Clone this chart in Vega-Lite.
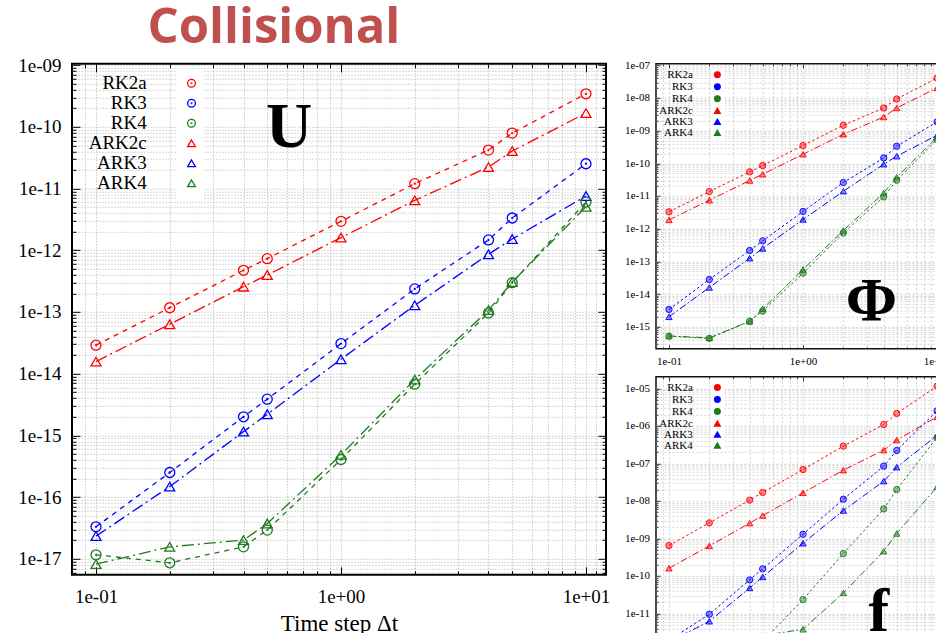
{
"$schema": "https://vega.github.io/schema/vega-lite/v6.json",
"background": "white",
"padding": {"left": 16, "top": 2.8, "right": 0, "bottom": 0},
"spacing": 12,
"columns": 2,
"align": "none",
"resolve": {"scale": {"color": "independent", "shape": "independent", "strokeDash": "independent", "fillOpacity": "independent", "stroke": "independent"}, "legend": {"color": "independent", "shape": "independent", "strokeDash": "independent", "fillOpacity": "independent", "stroke": "independent"}},
"config": {
  "font": "Liberation Serif",
  "view": {"stroke": "#111", "strokeWidth": 1.5},
  "axis": {"domain": false, "labelFont": "Liberation Serif", "labelColor": "#000", "tickColor": "#000", "tickWidth": 1, "labelFlush": false, "labelOverlap": false, "labelBound": false, "titleFont": "Liberation Serif", "titleFontWeight": "normal", "titleColor": "#000"},
  "legend": {"labelFont": "Liberation Serif", "labelColor": "#000"}
},
"datasets": {
  "U": [
    {"scheme":"RK2a","dt":0.1,"err":2.89e-14},{"scheme":"RK2a","dt":0.2,"err":1.17e-13},{"scheme":"RK2a","dt":0.4,"err":4.73e-13},{"scheme":"RK2a","dt":0.5,"err":7.30e-13},{"scheme":"RK2a","dt":1,"err":2.94e-12},{"scheme":"RK2a","dt":2,"err":1.20e-11},{"scheme":"RK2a","dt":4,"err":4.20e-11},{"scheme":"RK2a","dt":5,"err":7.92e-11},{"scheme":"RK2a","dt":10,"err":3.43e-10},
    {"scheme":"ARK2c","dt":0.1,"err":1.57e-14},{"scheme":"ARK2c","dt":0.2,"err":6.32e-14},{"scheme":"ARK2c","dt":0.4,"err":2.57e-13},{"scheme":"ARK2c","dt":0.5,"err":3.97e-13},{"scheme":"ARK2c","dt":1,"err":1.60e-12},{"scheme":"ARK2c","dt":2,"err":6.44e-12},{"scheme":"ARK2c","dt":4,"err":2.23e-11},{"scheme":"ARK2c","dt":5,"err":4.05e-11},{"scheme":"ARK2c","dt":10,"err":1.67e-10},
    {"scheme":"RK3","dt":0.1,"err":3.30e-17},{"scheme":"RK3","dt":0.2,"err":2.50e-16},{"scheme":"RK3","dt":0.4,"err":2.00e-15},{"scheme":"RK3","dt":0.5,"err":3.86e-15},{"scheme":"RK3","dt":1,"err":3.07e-14},{"scheme":"RK3","dt":2,"err":2.36e-13},{"scheme":"RK3","dt":4,"err":1.47e-12},{"scheme":"RK3","dt":5,"err":3.33e-12},{"scheme":"RK3","dt":10,"err":2.52e-11},
    {"scheme":"ARK3","dt":0.1,"err":2.33e-17},{"scheme":"ARK3","dt":0.2,"err":1.48e-16},{"scheme":"ARK3","dt":0.4,"err":1.15e-15},{"scheme":"ARK3","dt":0.5,"err":2.20e-15},{"scheme":"ARK3","dt":1,"err":1.71e-14},{"scheme":"ARK3","dt":2,"err":1.28e-13},{"scheme":"ARK3","dt":4,"err":8.60e-13},{"scheme":"ARK3","dt":5,"err":1.52e-12},{"scheme":"ARK3","dt":10,"err":7.56e-12},
    {"scheme":"RK4","dt":0.1,"err":1.16e-17},{"scheme":"RK4","dt":0.2,"err":8.61e-18},{"scheme":"RK4","dt":0.4,"err":1.56e-17},{"scheme":"RK4","dt":0.5,"err":2.92e-17},{"scheme":"RK4","dt":1,"err":4.06e-16},{"scheme":"RK4","dt":2,"err":6.75e-15},{"scheme":"RK4","dt":4,"err":9.64e-14},{"scheme":"RK4","dt":5,"err":2.98e-13},{"scheme":"RK4","dt":10,"err":6.04e-12},
    {"scheme":"ARK4","dt":0.1,"err":8.20e-18},{"scheme":"ARK4","dt":0.2,"err":1.56e-17},{"scheme":"ARK4","dt":0.4,"err":2.01e-17},{"scheme":"ARK4","dt":0.5,"err":3.73e-17},{"scheme":"ARK4","dt":1,"err":4.83e-16},{"scheme":"ARK4","dt":2,"err":8.01e-15},{"scheme":"ARK4","dt":4,"err":1.07e-13},{"scheme":"ARK4","dt":5,"err":3.05e-13},{"scheme":"ARK4","dt":10,"err":5.07e-12}
  ],
  "Phi": [
    {"scheme":"RK2a","dt":0.1,"err":3.27e-12},{"scheme":"RK2a","dt":0.2,"err":1.37e-11},{"scheme":"RK2a","dt":0.4,"err":5.46e-11},{"scheme":"RK2a","dt":0.5,"err":8.57e-11},{"scheme":"RK2a","dt":1,"err":3.50e-10},{"scheme":"RK2a","dt":2,"err":1.46e-9},{"scheme":"RK2a","dt":4,"err":4.94e-9},{"scheme":"RK2a","dt":5,"err":9.31e-9},{"scheme":"RK2a","dt":10,"err":4.09e-8},
    {"scheme":"ARK2c","dt":0.1,"err":1.86e-12},{"scheme":"ARK2c","dt":0.2,"err":7.44e-12},{"scheme":"ARK2c","dt":0.4,"err":2.98e-11},{"scheme":"ARK2c","dt":0.5,"err":4.64e-11},{"scheme":"ARK2c","dt":1,"err":1.90e-10},{"scheme":"ARK2c","dt":2,"err":7.76e-10},{"scheme":"ARK2c","dt":4,"err":2.62e-9},{"scheme":"ARK2c","dt":5,"err":4.94e-9},{"scheme":"ARK2c","dt":10,"err":2.02e-8},
    {"scheme":"RK3","dt":0.1,"err":3.38e-15},{"scheme":"RK3","dt":0.2,"err":2.79e-14},{"scheme":"RK3","dt":0.4,"err":2.15e-13},{"scheme":"RK3","dt":0.5,"err":4.24e-13},{"scheme":"RK3","dt":1,"err":3.36e-12},{"scheme":"RK3","dt":2,"err":2.59e-11},{"scheme":"RK3","dt":4,"err":1.46e-10},{"scheme":"RK3","dt":5,"err":3.33e-10},{"scheme":"RK3","dt":10,"err":1.85e-9},
    {"scheme":"ARK3","dt":0.1,"err":2.01e-15},{"scheme":"ARK3","dt":0.2,"err":1.59e-14},{"scheme":"ARK3","dt":0.4,"err":1.25e-13},{"scheme":"ARK3","dt":0.5,"err":2.48e-13},{"scheme":"ARK3","dt":1,"err":1.91e-12},{"scheme":"ARK3","dt":2,"err":1.40e-11},{"scheme":"ARK3","dt":4,"err":9.38e-11},{"scheme":"ARK3","dt":5,"err":1.65e-10},{"scheme":"ARK3","dt":10,"err":7.23e-10},
    {"scheme":"RK4","dt":0.1,"err":5.16e-16},{"scheme":"RK4","dt":0.2,"err":4.39e-16},{"scheme":"RK4","dt":0.4,"err":1.48e-15},{"scheme":"RK4","dt":0.5,"err":3.00e-15},{"scheme":"RK4","dt":1,"err":4.36e-14},{"scheme":"RK4","dt":2,"err":7.45e-13},{"scheme":"RK4","dt":4,"err":9.38e-12},{"scheme":"RK4","dt":5,"err":3.04e-11},{"scheme":"RK4","dt":10,"err":5.35e-10},
    {"scheme":"ARK4","dt":0.1,"err":5.20e-16},{"scheme":"ARK4","dt":0.2,"err":4.58e-16},{"scheme":"ARK4","dt":0.4,"err":1.45e-15},{"scheme":"ARK4","dt":0.5,"err":3.52e-15},{"scheme":"ARK4","dt":1,"err":5.65e-14},{"scheme":"ARK4","dt":2,"err":8.81e-13},{"scheme":"ARK4","dt":4,"err":1.24e-11},{"scheme":"ARK4","dt":5,"err":3.76e-11},{"scheme":"ARK4","dt":10,"err":6.28e-10}
  ],
  "F": [
    {"scheme":"RK2a","dt":0.1,"err":6.45e-10},{"scheme":"RK2a","dt":0.2,"err":2.60e-9},{"scheme":"RK2a","dt":0.4,"err":1.05e-8},{"scheme":"RK2a","dt":0.5,"err":1.68e-8},{"scheme":"RK2a","dt":1,"err":6.89e-8},{"scheme":"RK2a","dt":2,"err":2.89e-7},{"scheme":"RK2a","dt":4,"err":1.09e-6},{"scheme":"RK2a","dt":5,"err":2.15e-6},{"scheme":"RK2a","dt":10,"err":1.15e-5},
    {"scheme":"ARK2c","dt":0.1,"err":1.60e-10},{"scheme":"ARK2c","dt":0.2,"err":6.32e-10},{"scheme":"ARK2c","dt":0.4,"err":2.55e-9},{"scheme":"ARK2c","dt":0.5,"err":4.07e-9},{"scheme":"ARK2c","dt":1,"err":1.64e-8},{"scheme":"ARK2c","dt":2,"err":6.61e-8},{"scheme":"ARK2c","dt":4,"err":2.26e-7},{"scheme":"ARK2c","dt":5,"err":4.18e-7},{"scheme":"ARK2c","dt":10,"err":1.75e-6},
    {"scheme":"RK3","dt":0.1,"err":1.92e-12},{"scheme":"RK3","dt":0.2,"err":9.48e-12},{"scheme":"RK3","dt":0.4,"err":7.82e-11},{"scheme":"RK3","dt":0.5,"err":1.54e-10},{"scheme":"RK3","dt":1,"err":1.29e-9},{"scheme":"RK3","dt":2,"err":1.11e-8},{"scheme":"RK3","dt":4,"err":8.45e-8},{"scheme":"RK3","dt":5,"err":2.21e-7},{"scheme":"RK3","dt":10,"err":2.53e-6},
    {"scheme":"ARK3","dt":0.1,"err":1.73e-12},{"scheme":"ARK3","dt":0.2,"err":6.17e-12},{"scheme":"ARK3","dt":0.4,"err":4.78e-11},{"scheme":"ARK3","dt":0.5,"err":9.40e-11},{"scheme":"ARK3","dt":1,"err":7.45e-10},{"scheme":"ARK3","dt":2,"err":5.54e-9},{"scheme":"ARK3","dt":4,"err":3.36e-8},{"scheme":"ARK3","dt":5,"err":7.94e-8},{"scheme":"ARK3","dt":10,"err":5.57e-7},
    {"scheme":"RK4","dt":0.1,"err":1.27e-12},{"scheme":"RK4","dt":0.2,"err":9.37e-13},{"scheme":"RK4","dt":0.4,"err":1.17e-12},{"scheme":"RK4","dt":0.5,"err":1.80e-12},{"scheme":"RK4","dt":1,"err":2.33e-11},{"scheme":"RK4","dt":2,"err":3.94e-10},{"scheme":"RK4","dt":4,"err":6.14e-9},{"scheme":"RK4","dt":5,"err":2.01e-8},{"scheme":"RK4","dt":10,"err":4.92e-7},
    {"scheme":"ARK4","dt":0.1,"err":8.11e-13},{"scheme":"ARK4","dt":0.2,"err":1.80e-12},{"scheme":"ARK4","dt":0.4,"err":1.84e-12},{"scheme":"ARK4","dt":0.5,"err":2.55e-12},{"scheme":"ARK4","dt":1,"err":3.77e-12},{"scheme":"ARK4","dt":2,"err":3.52e-11},{"scheme":"ARK4","dt":4,"err":4.55e-10},{"scheme":"ARK4","dt":5,"err":1.35e-9},{"scheme":"ARK4","dt":10,"err":2.37e-8}
  ]
},
"concat": [
  {
    "width": 534, "height": 511,
    "view": {"stroke": "#000", "strokeWidth": 2},
    "data": {"name": "U"},
    "resolve": {"axis": {"x": "independent", "y": "independent"}},
    "layer": [
      {
        "mark": {"type": "line", "strokeWidth": 1.3, "clip": true},
        "encoding": {
          "x": {"field": "dt", "type": "quantitative", "scale": {"type": "log", "domain": [0.0798, 12.07], "nice": false},
            "axis": {"orient": "bottom", "values": [0.09,0.1,0.2,0.3,0.4,0.5,0.6,0.7,0.8,0.9,1,2,3,4,5,6,7,8,9,10,11],
              "labelExpr": "abs(log(datum.value)/LN10-round(log(datum.value)/LN10))<0.001 ? '1e'+(round(log(datum.value)/LN10)<0?'-':'+')+(abs(round(log(datum.value)/LN10))<10?'0':'')+abs(round(log(datum.value)/LN10)) : ''",
              "labelFontSize": 19, "labelPadding": 20.5,
              "tickSize": {"condition": {"test": "abs(log(datum.value)/LN10-round(log(datum.value)/LN10))<0.001", "value": -8}, "value": -4},
              "grid": true, "gridColor": "#a0a0a0", "gridDash": [1, 2], "gridWidth": 0.8,
              "title": "Time step Δt", "titleFontSize": 23, "titlePadding": 2}},
          "y": {"field": "err", "type": "quantitative", "scale": {"type": "log", "domain": [5.5e-18, 1.05e-9], "nice": false},
            "axis": {"orient": "left", "values": [6e-18,7e-18,8e-18,9e-18,1e-17,2e-17,3e-17,4e-17,5e-17,6e-17,7e-17,8e-17,9e-17,1e-16,2e-16,3e-16,4e-16,5e-16,6e-16,7e-16,8e-16,9e-16,1e-15,2e-15,3e-15,4e-15,5e-15,6e-15,7e-15,8e-15,9e-15,1e-14,2e-14,3e-14,4e-14,5e-14,6e-14,7e-14,8e-14,9e-14,1e-13,2e-13,3e-13,4e-13,5e-13,6e-13,7e-13,8e-13,9e-13,1e-12,2e-12,3e-12,4e-12,5e-12,6e-12,7e-12,8e-12,9e-12,1e-11,2e-11,3e-11,4e-11,5e-11,6e-11,7e-11,8e-11,9e-11,1e-10,2e-10,3e-10,4e-10,5e-10,6e-10,7e-10,8e-10,9e-10,1e-9],
              "labelExpr": "abs(log(datum.value)/LN10-round(log(datum.value)/LN10))<0.001 ? '1e'+(round(log(datum.value)/LN10)<0?'-':'+')+(abs(round(log(datum.value)/LN10))<10?'0':'')+abs(round(log(datum.value)/LN10)) : ''",
              "labelFontSize": 19, "labelPadding": 19,
              "tickSize": {"condition": {"test": "abs(log(datum.value)/LN10-round(log(datum.value)/LN10))<0.001", "value": -8}, "value": -4},
              "grid": true, "gridColor": "#a0a0a0", "gridDash": [1, 2], "gridWidth": 0.8, "title": null}},
          "color": {"field": "scheme", "type": "nominal", "scale": {"domain": ["RK2a","RK3","RK4","ARK2c","ARK3","ARK4"], "range": ["#ff0000","#0000ff","#1e7b1e","#ff0000","#0000ff","#1e7b1e"]}},
          "strokeDash": {"field": "scheme", "type": "nominal", "scale": {"domain": ["ARK2c","ARK3","ARK4","RK2a","RK3","RK4"], "range": [[12,4,2,4],[12,4,2,4],[12,4,2,4],[5,5],[5,5],[5,5]]}, "legend": null}
        }
      },
      {
        "mark": {"type": "point", "filled": false, "size": 100, "strokeWidth": 1.3, "opacity": 1},
        "encoding": {
          "x": {"field": "dt", "type": "quantitative",
            "axis": {"orient": "top", "values": [0.09,0.1,0.2,0.3,0.4,0.5,0.6,0.7,0.8,0.9,1,2,3,4,5,6,7,8,9,10,11], "labels": false, "grid": false,
              "title": "Collisional", "titleFont": "Open Sans", "titleFontSize": 49, "titleFontWeight": "bold", "titleColor": "#c0504d", "titleX": 75, "titleY": -21, "titleAlign": "left", "titleBaseline": "alphabetic", "titleAngle": 0,
              "tickSize": {"condition": {"test": "abs(log(datum.value)/LN10-round(log(datum.value)/LN10))<0.001", "value": -8}, "value": -4}}},
          "y": {"field": "err", "type": "quantitative",
            "axis": {"orient": "right", "values": [6e-18,7e-18,8e-18,9e-18,1e-17,2e-17,3e-17,4e-17,5e-17,6e-17,7e-17,8e-17,9e-17,1e-16,2e-16,3e-16,4e-16,5e-16,6e-16,7e-16,8e-16,9e-16,1e-15,2e-15,3e-15,4e-15,5e-15,6e-15,7e-15,8e-15,9e-15,1e-14,2e-14,3e-14,4e-14,5e-14,6e-14,7e-14,8e-14,9e-14,1e-13,2e-13,3e-13,4e-13,5e-13,6e-13,7e-13,8e-13,9e-13,1e-12,2e-12,3e-12,4e-12,5e-12,6e-12,7e-12,8e-12,9e-12,1e-11,2e-11,3e-11,4e-11,5e-11,6e-11,7e-11,8e-11,9e-11,1e-10,2e-10,3e-10,4e-10,5e-10,6e-10,7e-10,8e-10,9e-10,1e-9], "labels": false, "grid": false, "title": null,
              "tickSize": {"condition": {"test": "abs(log(datum.value)/LN10-round(log(datum.value)/LN10))<0.001", "value": -8}, "value": -4}}},
          "color": {"field": "scheme", "type": "nominal", "scale": {"domain": ["RK2a","RK3","RK4","ARK2c","ARK3","ARK4"], "range": ["#ff0000","#0000ff","#1e7b1e","#ff0000","#0000ff","#1e7b1e"]},
            "legend": {"orient": "none", "legendX": 105, "legendY": 5, "direction": "vertical", "title": null, "labelFont": "Liberation Serif", "labelFontSize": 19, "labelAlign": "right", "labelOffset": -54.3, "symbolSize": 60, "symbolStrokeWidth": 1.3, "padding": 5, "rowPadding": -7.4, "fillColor": "white", "labelLimit": 300}},
          "shape": {"field": "scheme", "type": "nominal", "scale": {"domain": ["RK2a","RK3","RK4","ARK2c","ARK3","ARK4"], "range": ["M1,0A1,1 0 1,1 -1,0A1,1 0 1,1 1,0M0.1,0A0.1,0.1 0 1,1 -0.1,0A0.1,0.1 0 1,1 0.1,0","M1,0A1,1 0 1,1 -1,0A1,1 0 1,1 1,0M0.1,0A0.1,0.1 0 1,1 -0.1,0A0.1,0.1 0 1,1 0.1,0","M1,0A1,1 0 1,1 -1,0A1,1 0 1,1 1,0M0.1,0A0.1,0.1 0 1,1 -0.1,0A0.1,0.1 0 1,1 0.1,0","triangle-up","triangle-up","triangle-up"]}}
        }
      },
      {
        "data": {"values": [{}]},
        "mark": {"type": "text", "font": "Liberation Serif", "fontWeight": "bold", "fontSize": 64, "baseline": "middle", "align": "center", "color": "#000"},
        "encoding": {
          "x": {"datum": 0.6135, "type": "quantitative", "axis": null},
          "y": {"datum": 9.7e-11, "type": "quantitative", "axis": null},
          "text": {"value": "U"}
        }
      }
    ]
  },
  {
    "spacing": 5,
    "resolve": {"scale": {"color": "independent", "shape": "independent", "strokeDash": "independent", "fillOpacity": "independent", "stroke": "independent"}, "legend": {"color": "independent", "shape": "independent", "strokeDash": "independent", "fillOpacity": "independent", "stroke": "independent"}},
    "vconcat": [
      {
        "width": 292, "height": 285,
        "data": {"name": "Phi"},
        "resolve": {"axis": {"x": "independent", "y": "independent"}},
        "layer": [
          {
            "mark": {"type": "line", "strokeWidth": 1, "clip": true},
            "encoding": {
              "x": {"field": "dt", "type": "quantitative", "scale": {"type": "log", "domain": [0.08, 12.07], "nice": false},
                "axis": {"orient": "bottom", "values": [0.09,0.1,0.2,0.3,0.4,0.5,0.6,0.7,0.8,0.9,1,2,3,4,5,6,7,8,9,10,11],
                  "labelExpr": "abs(log(datum.value)/LN10-round(log(datum.value)/LN10))<0.001 ? '1e'+(round(log(datum.value)/LN10)<0?'-':'+')+(abs(round(log(datum.value)/LN10))<10?'0':'')+abs(round(log(datum.value)/LN10)) : ''",
                  "labelFontSize": 11, "labelPadding": 10.5, "tickColor": "#333",
                  "tickSize": {"condition": {"test": "abs(log(datum.value)/LN10-round(log(datum.value)/LN10))<0.001", "value": -4}, "value": -2},
                  "grid": true, "gridColor": "#c8c8c8", "gridDash": [2, 2], "gridWidth": 0.8, "title": null}},
              "y": {"field": "err", "type": "quantitative", "scale": {"type": "log", "domain": [2.11e-16, 1.11e-7], "nice": false},
                "axis": {"orient": "left", "values": [3e-16,4e-16,5e-16,6e-16,7e-16,8e-16,9e-16,1e-15,2e-15,3e-15,4e-15,5e-15,6e-15,7e-15,8e-15,9e-15,1e-14,2e-14,3e-14,4e-14,5e-14,6e-14,7e-14,8e-14,9e-14,1e-13,2e-13,3e-13,4e-13,5e-13,6e-13,7e-13,8e-13,9e-13,1e-12,2e-12,3e-12,4e-12,5e-12,6e-12,7e-12,8e-12,9e-12,1e-11,2e-11,3e-11,4e-11,5e-11,6e-11,7e-11,8e-11,9e-11,1e-10,2e-10,3e-10,4e-10,5e-10,6e-10,7e-10,8e-10,9e-10,1e-9,2e-9,3e-9,4e-9,5e-9,6e-9,7e-9,8e-9,9e-9,1e-8,2e-8,3e-8,4e-8,5e-8,6e-8,7e-8,8e-8,9e-8,1e-7],
                  "labelExpr": "abs(log(datum.value)/LN10-round(log(datum.value)/LN10))<0.001 ? '1e'+(round(log(datum.value)/LN10)<0?'-':'+')+(abs(round(log(datum.value)/LN10))<10?'0':'')+abs(round(log(datum.value)/LN10)) : ''",
                  "labelFontSize": 11, "labelPadding": 10.6, "tickColor": "#333",
                  "tickSize": {"condition": {"test": "abs(log(datum.value)/LN10-round(log(datum.value)/LN10))<0.001", "value": -4}, "value": -2},
                  "grid": true, "gridColor": "#c8c8c8", "gridDash": [2, 2], "gridWidth": 0.8, "title": null}},
              "color": {"field": "scheme", "type": "nominal", "scale": {"domain": ["RK2a","RK3","RK4","ARK2c","ARK3","ARK4"], "range": ["#ff0000","#0000ff","#1e7b1e","#ff0000","#0000ff","#1e7b1e"]}},
              "strokeDash": {"field": "scheme", "type": "nominal", "scale": {"domain": ["ARK2c","ARK3","ARK4","RK2a","RK3","RK4"], "range": [[7,2.5,1.5,2.5],[7,2.5,1.5,2.5],[7,2.5,1.5,2.5],[2.5,2.5],[2.5,2.5],[2.5,2.5]]}, "legend": null}
            }
          },
          {
            "mark": {"type": "point", "filled": true, "size": 40, "strokeWidth": 0.9, "opacity": 1},
            "encoding": {
              "x": {"field": "dt", "type": "quantitative",
                "axis": {"orient": "top", "values": [0.09,0.1,0.2,0.3,0.4,0.5,0.6,0.7,0.8,0.9,1,2,3,4,5,6,7,8,9,10,11], "labels": false, "grid": false, "tickColor": "#333",
                  "title": "x", "titleOpacity": 0, "titleFontSize": 8, "titleX": 10, "titleY": -3.3, "titleBaseline": "alphabetic", "titleAlign": "left",
                  "tickSize": {"condition": {"test": "abs(log(datum.value)/LN10-round(log(datum.value)/LN10))<0.001", "value": -4}, "value": -2}}},
              "y": {"field": "err", "type": "quantitative",
                "axis": {"orient": "right", "values": [3e-16,4e-16,5e-16,6e-16,7e-16,8e-16,9e-16,1e-15,2e-15,3e-15,4e-15,5e-15,6e-15,7e-15,8e-15,9e-15,1e-14,2e-14,3e-14,4e-14,5e-14,6e-14,7e-14,8e-14,9e-14,1e-13,2e-13,3e-13,4e-13,5e-13,6e-13,7e-13,8e-13,9e-13,1e-12,2e-12,3e-12,4e-12,5e-12,6e-12,7e-12,8e-12,9e-12,1e-11,2e-11,3e-11,4e-11,5e-11,6e-11,7e-11,8e-11,9e-11,1e-10,2e-10,3e-10,4e-10,5e-10,6e-10,7e-10,8e-10,9e-10,1e-9,2e-9,3e-9,4e-9,5e-9,6e-9,7e-9,8e-9,9e-9,1e-8,2e-8,3e-8,4e-8,5e-8,6e-8,7e-8,8e-8,9e-8,1e-7], "labels": false, "grid": false, "title": null, "tickColor": "#333",
                  "tickSize": {"condition": {"test": "abs(log(datum.value)/LN10-round(log(datum.value)/LN10))<0.001", "value": -4}, "value": -2}}},
              "color": {"field": "scheme", "type": "nominal", "scale": {"domain": ["RK2a","RK3","RK4","ARK2c","ARK3","ARK4"], "range": ["#ff0000","#0000ff","#1e7b1e","#ff0000","#0000ff","#1e7b1e"]},
                "legend": {"orient": "none", "legendX": 54.9, "legendY": 4.5, "direction": "vertical", "title": null, "labelFont": "Liberation Serif", "labelFontSize": 11, "labelAlign": "right", "labelOffset": -30.1, "symbolSize": 30, "padding": 1, "rowPadding": -4.75, "fillColor": "white", "labelLimit": 200}},
              "shape": {"field": "scheme", "type": "nominal", "scale": {"domain": ["RK2a","RK3","RK4","ARK2c","ARK3","ARK4"], "range": ["circle","circle","circle","triangle-up","triangle-up","triangle-up"]}},
              "fillOpacity": {"field": "scheme", "type": "nominal", "scale": {"domain": ["RK2a","RK3","RK4","ARK2c","ARK3","ARK4"], "range": [0.45,0.45,0.45,1,1,1]}},
              "stroke": {"field": "scheme", "type": "nominal", "scale": {"domain": ["RK2a","RK3","RK4","ARK2c","ARK3","ARK4"], "range": ["#ff0000","#0000ff","#1e7b1e","#ff0000","#0000ff","#1e7b1e"]}}
            }
          },
          {
            "data": {"values": [{}]},
            "mark": {"type": "text", "font": "Liberation Serif", "fontWeight": "bold", "fontSize": 62, "baseline": "middle", "align": "center", "color": "#000"},
            "encoding": {
              "x": {"datum": 3.24, "type": "quantitative", "axis": null},
              "y": {"datum": 6.07e-15, "type": "quantitative", "axis": null},
              "text": {"value": "Φ"}
            }
          }
        ]
      },
      {
        "width": 292, "height": 285,
        "data": {"name": "F"},
        "resolve": {"axis": {"x": "independent", "y": "independent"}},
        "layer": [
          {
            "mark": {"type": "line", "strokeWidth": 1, "clip": true},
            "encoding": {
              "x": {"field": "dt", "type": "quantitative", "scale": {"type": "log", "domain": [0.08, 12.07], "nice": false},
                "axis": {"orient": "bottom", "values": [0.09,0.1,0.2,0.3,0.4,0.5,0.6,0.7,0.8,0.9,1,2,3,4,5,6,7,8,9,10,11],
                  "labelExpr": "abs(log(datum.value)/LN10-round(log(datum.value)/LN10))<0.001 ? '1e'+(round(log(datum.value)/LN10)<0?'-':'+')+(abs(round(log(datum.value)/LN10))<10?'0':'')+abs(round(log(datum.value)/LN10)) : ''",
                  "labelFontSize": 11, "labelPadding": 10.5, "tickColor": "#333",
                  "tickSize": {"condition": {"test": "abs(log(datum.value)/LN10-round(log(datum.value)/LN10))<0.001", "value": -4}, "value": -2},
                  "grid": true, "gridColor": "#c8c8c8", "gridDash": [2, 2], "gridWidth": 0.8, "title": null}},
              "y": {"field": "err", "type": "quantitative", "scale": {"type": "log", "domain": [5.12e-13, 2.04e-5], "nice": false},
                "axis": {"orient": "left", "values": [6e-13,7e-13,8e-13,9e-13,1e-12,2e-12,3e-12,4e-12,5e-12,6e-12,7e-12,8e-12,9e-12,1e-11,2e-11,3e-11,4e-11,5e-11,6e-11,7e-11,8e-11,9e-11,1e-10,2e-10,3e-10,4e-10,5e-10,6e-10,7e-10,8e-10,9e-10,1e-9,2e-9,3e-9,4e-9,5e-9,6e-9,7e-9,8e-9,9e-9,1e-8,2e-8,3e-8,4e-8,5e-8,6e-8,7e-8,8e-8,9e-8,1e-7,2e-7,3e-7,4e-7,5e-7,6e-7,7e-7,8e-7,9e-7,1e-6,2e-6,3e-6,4e-6,5e-6,6e-6,7e-6,8e-6,9e-6,1e-5],
                  "labelExpr": "abs(log(datum.value)/LN10-round(log(datum.value)/LN10))<0.001 ? '1e'+(round(log(datum.value)/LN10)<0?'-':'+')+(abs(round(log(datum.value)/LN10))<10?'0':'')+abs(round(log(datum.value)/LN10)) : ''",
                  "labelFontSize": 11, "labelPadding": 10.6, "tickColor": "#333",
                  "tickSize": {"condition": {"test": "abs(log(datum.value)/LN10-round(log(datum.value)/LN10))<0.001", "value": -4}, "value": -2},
                  "grid": true, "gridColor": "#c8c8c8", "gridDash": [2, 2], "gridWidth": 0.8, "title": null}},
              "color": {"field": "scheme", "type": "nominal", "scale": {"domain": ["RK2a","RK3","RK4","ARK2c","ARK3","ARK4"], "range": ["#ff0000","#0000ff","#1e7b1e","#ff0000","#0000ff","#1e7b1e"]}},
              "strokeDash": {"field": "scheme", "type": "nominal", "scale": {"domain": ["ARK2c","ARK3","ARK4","RK2a","RK3","RK4"], "range": [[7,2.5,1.5,2.5],[7,2.5,1.5,2.5],[7,2.5,1.5,2.5],[2.5,2.5],[2.5,2.5],[2.5,2.5]]}, "legend": null}
            }
          },
          {
            "mark": {"type": "point", "filled": true, "size": 40, "strokeWidth": 0.9, "opacity": 1},
            "encoding": {
              "x": {"field": "dt", "type": "quantitative",
                "axis": {"orient": "top", "values": [0.09,0.1,0.2,0.3,0.4,0.5,0.6,0.7,0.8,0.9,1,2,3,4,5,6,7,8,9,10,11], "labels": false, "grid": false, "title": null, "tickColor": "#333",
                  "tickSize": {"condition": {"test": "abs(log(datum.value)/LN10-round(log(datum.value)/LN10))<0.001", "value": -4}, "value": -2}}},
              "y": {"field": "err", "type": "quantitative",
                "axis": {"orient": "right", "values": [6e-13,7e-13,8e-13,9e-13,1e-12,2e-12,3e-12,4e-12,5e-12,6e-12,7e-12,8e-12,9e-12,1e-11,2e-11,3e-11,4e-11,5e-11,6e-11,7e-11,8e-11,9e-11,1e-10,2e-10,3e-10,4e-10,5e-10,6e-10,7e-10,8e-10,9e-10,1e-9,2e-9,3e-9,4e-9,5e-9,6e-9,7e-9,8e-9,9e-9,1e-8,2e-8,3e-8,4e-8,5e-8,6e-8,7e-8,8e-8,9e-8,1e-7,2e-7,3e-7,4e-7,5e-7,6e-7,7e-7,8e-7,9e-7,1e-6,2e-6,3e-6,4e-6,5e-6,6e-6,7e-6,8e-6,9e-6,1e-5], "labels": false, "grid": false, "title": null, "tickColor": "#333",
                  "tickSize": {"condition": {"test": "abs(log(datum.value)/LN10-round(log(datum.value)/LN10))<0.001", "value": -4}, "value": -2}}},
              "color": {"field": "scheme", "type": "nominal", "scale": {"domain": ["RK2a","RK3","RK4","ARK2c","ARK3","ARK4"], "range": ["#ff0000","#0000ff","#1e7b1e","#ff0000","#0000ff","#1e7b1e"]},
                "legend": {"orient": "none", "legendX": 54.9, "legendY": 4.3, "direction": "vertical", "title": null, "labelFont": "Liberation Serif", "labelFontSize": 11, "labelAlign": "right", "labelOffset": -30.1, "symbolSize": 30, "padding": 1, "rowPadding": -4.75, "fillColor": "white", "labelLimit": 200}},
              "shape": {"field": "scheme", "type": "nominal", "scale": {"domain": ["RK2a","RK3","RK4","ARK2c","ARK3","ARK4"], "range": ["circle","circle","circle","triangle-up","triangle-up","triangle-up"]}},
              "fillOpacity": {"field": "scheme", "type": "nominal", "scale": {"domain": ["RK2a","RK3","RK4","ARK2c","ARK3","ARK4"], "range": [0.45,0.45,0.45,1,1,1]}},
              "stroke": {"field": "scheme", "type": "nominal", "scale": {"domain": ["RK2a","RK3","RK4","ARK2c","ARK3","ARK4"], "range": ["#ff0000","#0000ff","#1e7b1e","#ff0000","#0000ff","#1e7b1e"]}}
            }
          },
          {
            "data": {"values": [{}]},
            "mark": {"type": "text", "font": "Liberation Serif", "fontWeight": "bold", "fontSize": 62, "baseline": "middle", "align": "center", "color": "#000"},
            "encoding": {
              "x": {"datum": 3.68, "type": "quantitative", "axis": null},
              "y": {"datum": 1.08e-11, "type": "quantitative", "axis": null},
              "text": {"value": "f"}
            }
          }
        ]
      }
    ]
  }
]
}
